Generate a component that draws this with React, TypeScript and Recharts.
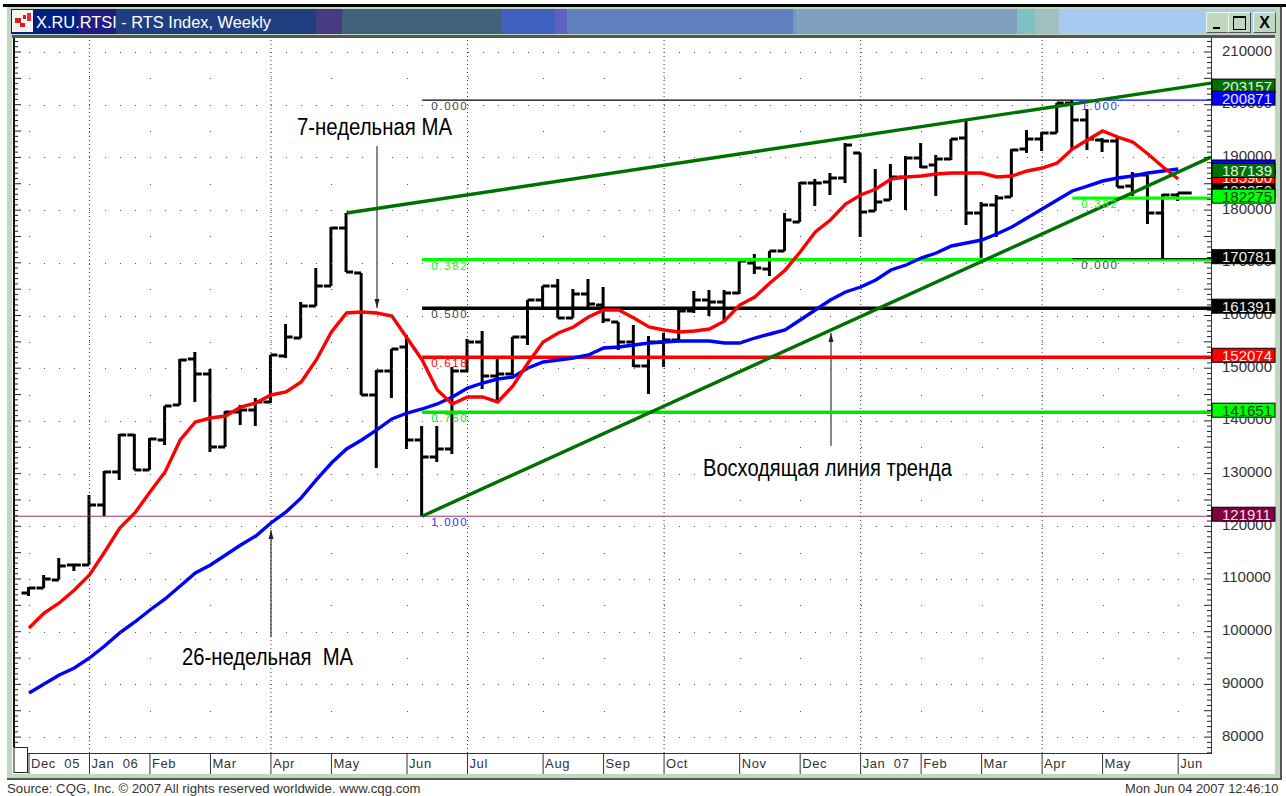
import React from "react";
import {
  Bar,
  ComposedChart,
  Line,
  ReferenceDot,
  ReferenceLine,
  Scatter,
  XAxis,
  YAxis,
} from "recharts";

// weekly RTS bars, Dec 05 - Jun 07
const opens = [
  107340, 108290, 109810, 112660, 112660, 124040, 130310, 137330, 130690, 136380, 143020,
  151750, 148900, 135050, 141690, 142070, 143590, 152320, 155730, 161800, 165600, 176600,
  168070, 144920, 149470, 154020, 136380, 133150, 134670, 149470, 154970, 148520, 148900,
  155920, 162940, 165600, 159530, 164080, 161990, 158770, 154970, 150420, 154970, 155350,
  160860, 162940, 162560, 164270, 169960, 168820, 172240, 177740, 185140, 185330, 186090,
  190840, 179830, 181920, 186280, 189890, 188560, 189700, 193680, 179450, 180970, 182490,
  191590, 193490, 194630, 200320, 197100, 193300, 193110, 184570, 186660, 179450, 182870,
];
const highs = [
  108480, 110760, 113990, 112850, 125940, 130490, 137520, 137520, 136760, 142830, 151750,
  153080, 149850, 141880, 143020, 144350, 152510, 158390, 162560, 169010, 176790, 179450,
  168070, 149660, 153640, 156300, 139030, 139030, 150230, 155540, 157060, 151940, 155920,
  162940, 165600, 166930, 165030, 166930, 165410, 158770, 158200, 156110, 156680, 161040,
  164650, 164840, 164840, 170340, 171670, 172240, 179450, 185330, 185900, 187040, 192730,
  190840, 187800, 188750, 190270, 192730, 190460, 193490, 197100, 181540, 182870, 191590,
  195200, 194820, 200320, 200870, 199180, 193680, 193680, 187230, 186660, 183060, 183250,
];
const lows = [
  106770, 108290, 109810, 111520, 112660, 121960, 128790, 130690, 130690, 135430, 143020,
  143590, 134100, 135050, 139220, 139030, 143400, 151940, 155730, 161800, 165600, 168250,
  144920, 131060, 144350, 134670, 121911, 132200, 133720, 149280, 146050, 143590, 148710,
  154400, 161420, 159530, 159530, 161610, 158580, 153450, 150230, 145110, 150230, 155160,
  160480, 159910, 158770, 164080, 167880, 167500, 172240, 177740, 180780, 182870, 185140,
  174900, 179830, 181920, 180020, 187990, 182680, 189510, 177170, 170950, 174900, 182490,
  190840, 191220, 194630, 191590, 191410, 191030, 184380, 182680, 177360, 170781, 181730,
];
const closes = [
  108290, 110000, 112470, 112660, 124040, 130310, 137330, 130690, 136570, 142830, 151560,
  148900, 135050, 141690, 142070, 143590, 152510, 155920, 161800, 165600, 176600, 168250,
  144920, 149470, 153640, 136380, 133150, 134670, 149470, 154970, 148520, 148900, 155920,
  162940, 165600, 159530, 164080, 162180, 159150, 154970, 150420, 154970, 155350, 160860,
  162940, 162560, 164270, 170340, 169010, 172240, 178120, 185140, 185140, 186090, 192350,
  179640, 181540, 186280, 189890, 188180, 189700, 193490, 179450, 180970, 182300, 191410,
  193490, 194630, 200320, 197100, 193490, 193110, 184380, 186660, 179450, 182870, 183250,
];
const ma7 = [
  100700, 103550, 105450, 107920, 110760, 115130, 119670, 122530, 126510, 130310, 136380,
  139790, 140550, 140930, 142640, 143400, 144920, 145490, 147380, 151560, 156870, 160480,
  160670, 160480, 159910, 155730, 151560, 145870, 143210, 144540, 144540, 143590, 146620,
  150990, 154970, 156680, 157820, 159720, 161040, 161040, 159530, 157820, 157250, 156870,
  157060, 157440, 158960, 161990, 163510, 166170, 168600, 172050, 175850, 178120, 181160,
  182870, 184000, 185900, 186280, 186470, 186850, 187040, 187040, 187040, 186280, 186470,
  187420, 187990, 188940, 191590, 193300, 195010, 193870, 192920, 190650, 188180, 185900,
];
const ma26 = [
  88370, 90080, 91790, 93110, 95010, 97290, 99760, 101840, 104120, 106210, 108670,
  111140, 112660, 114550, 116450, 118160, 120630, 122720, 125380, 128790, 132010, 134670,
  136380, 138280, 140370, 141500, 142260, 143210, 144540, 146240, 147190, 147950, 148330,
  150040, 151180, 151560, 151940, 152510, 153840, 154020, 154400, 154780, 154970, 155160,
  155160, 155160, 154780, 154780, 155730, 156490, 157250, 159150, 161040, 162940, 164460,
  165410, 166740, 168640, 169580, 170910, 171860, 173190, 173760, 174330, 175470, 176790,
  178500, 180210, 181920, 183630, 184570, 185520, 186090, 186470, 187040, 187420, 187800,
];

const monthTicks = [0, 4, 8, 12, 16, 20, 25, 29, 34, 38, 42, 47, 51, 55, 59, 63, 67, 71, 76];
const monthLabels = [
  "Dec\u00a0\u00a005", "Jan\u00a0\u00a006", "Feb", "Mar", "Apr", "May", "Jun", "Jul", "Aug", "Sep",
  "Oct", "Nov", "Dec", "Jan\u00a0\u00a007", "Feb", "Mar", "Apr", "May", "Jun",
];
const quarterTicks = [4, 16, 29, 42, 55, 67];

const swingLow = 121911;
const swingHigh = 200871;
const upperChannel = [
  { i: 21, v: 179450 },
  { i: 78.17, v: 204100 },
];
const risingTrend = [
  { i: 26, v: 121911 },
  { i: 78.17, v: 190076 },
];
const fibLeft = [
  { label: "0.382", v: 170600, color: "#00ff00" },
  { label: "0.500", v: 161391, color: "#000000" },
  { label: "0.618", v: 152074, color: "#ff0000" },
  { label: "0.750", v: 141651, color: "#00e800" },
];
const priceFlags = [
  { v: 203157, bg: "#007000", fg: "#e8f4e8" },
  { v: 200871, bg: "#0000ff", fg: "#e8e8ff" },
  { v: 187800, bg: "#0000ff", fg: "#e8e8ff" },
  { v: 185900, bg: "#ff0000", fg: "#ffe8e8" },
  { v: 183250, bg: "#000000", fg: "#e8e8e8" },
  { v: 187139, bg: "#007000", fg: "#e8f4e8" },
  { v: 182275, bg: "#00ff00", fg: "#004000" },
  { v: 170781, bg: "#000000", fg: "#f0f0f0" },
  { v: 161391, bg: "#000000", fg: "#f0f0f0" },
  { v: 152074, bg: "#ff0000", fg: "#ffe8e8" },
  { v: 141651, bg: "#00ff00", fg: "#004000" },
  { v: 121911, bg: "#800040", fg: "#f0e0e8" },
];

const PLOT = { left: 14, right: 1211, top: 38, bottom: 753 };
const X_DOMAIN: [number, number] = [-0.992, 78.17];
const Y_DOMAIN: [number, number] = [76980, 212660];
const LAST_BAR = opens.length - 1;
const SANS = "'Liberation Sans', Arial, sans-serif";
const NARROW = "'Liberation Sans Narrow', 'Liberation Sans', Arial, sans-serif";

const rows = opens.map((open, i) => ({
  i,
  open,
  high: highs[i],
  low: lows[i],
  close: closes[i],
  ma7: ma7[i],
  ma26: ma26[i],
}));

const axisTicks: number[] = [];
for (let v = 77000; v <= 212000; v += 1000) axisTicks.push(v);
const priceTicks: number[] = [];
for (let v = 80000; v <= 210000; v += 10000) priceTicks.push(v);

const gridDots: { i: number; v: number }[] = [];
priceTicks.forEach((v) => {
  for (let i = 0; i <= 77; i++) gridDots.push({ i, v });
  if (v < 210000) monthTicks.forEach((i) => gridDots.push({ i, v: v + 5000 }));
});

const level = (from: number, v: number) => [
  { i: from, v },
  { i: X_DOMAIN[1], v },
];

const OhlcBar = (props: any) => {
  const { x, y, width, height, payload, index } = props;
  const cx = x + width / 2;
  const unit = height / (payload.high - payload.low);
  const openY = y + (payload.high - payload.open) * unit;
  const closeY = y + (payload.high - payload.close) * unit;
  const closeLen = index === LAST_BAR ? 14 : 7;
  return (
    <g stroke="#000" strokeWidth={3} fill="none">
      <line x1={cx} x2={cx} y1={y} y2={y + height} />
      <line x1={cx - 7} x2={cx} y1={openY} y2={openY} />
      <line x1={cx} x2={cx + closeLen} y1={closeY} y2={closeY} />
    </g>
  );
};

const GridDot = (props: any) => (
  <rect x={Math.round(props.cx)} y={Math.round(props.cy)} width={1} height={1} fill="#555" />
);

// tick marks only, the price numbers go in ReferenceDots so the flags can cover them
const RightTick = (props: any) => {
  const { y, payload } = props;
  const isFive = payload.value % 5000 === 0;
  return <line x1={PLOT.right - (isFive ? 7 : 4)} x2={PLOT.right} y1={y} y2={y} stroke="#222" />;
};

const LeftTick = (props: any) => {
  const { y, payload } = props;
  const isFive = payload.value % 5000 === 0;
  return <line x1={PLOT.left} x2={PLOT.left + (isFive ? 7 : 4)} y1={y} y2={y} stroke="#222" />;
};

const MonthTick = (props: any) => {
  const { x, payload } = props;
  const label = monthLabels[monthTicks.indexOf(payload.value)];
  return (
    <g>
      <line x1={x} x2={x} y1={PLOT.bottom} y2={774} stroke="#333" />
      <text x={x + 2} y={768} fontFamily={SANS} fontSize={13} letterSpacing={0.6} fill="#333">
        {label}
      </text>
    </g>
  );
};

const priceLabel = (v: number) => (p: any) => (
  <text x={p.cx + 11} y={p.cy + 3.5} fontFamily={SANS} fontSize={15} fill="#333">
    {v}
  </text>
);

const fibText = (text: string, color: string) => (p: any) => (
  <text
    x={p.cx + 9}
    y={p.cy + 10}
    fontFamily={SANS}
    fontSize={11.5}
    letterSpacing={1.7}
    fill={color}
  >
    {text}
  </text>
);

const flagShape = (v: number, bg: string, fg: string) => (p: any) => (
  <g>
    <rect x={p.cx + 1} y={p.cy - 9} width={63} height={14} fill={bg} stroke="#000" />
    <text x={p.cx + 11} y={p.cy + 3.5} fontFamily={SANS} fontSize={15} fill={fg}>
      {v}
    </text>
  </g>
);

const Arrow = ({ x, from, to }: { x: number; from: number; to: number }) => {
  const dir = to > from ? -1 : 1;
  return (
    <g>
      <line x1={x} x2={x} y1={from} y2={to} stroke="#555" strokeWidth={1.4} />
      <polygon
        points={`${x},${to} ${x - 2.5},${to + dir * 9} ${x + 2.5},${to + dir * 9}`}
        fill="#222"
      />
    </g>
  );
};

const Note = ({ x, y, w, children }: any) => (
  <text
    x={x}
    y={y}
    fontFamily={NARROW}
    fontSize={23}
    fill="#000"
    textLength={w}
    lengthAdjust="spacingAndGlyphs"
  >
    {children}
  </text>
);

const titleBands = [
  [11, 78, "#002080"],
  [78, 116, "#201c80"],
  [116, 316, "#1f3f80"],
  [316, 342, "#463a80"],
  [342, 501, "#40607c"],
  [501, 555, "#3f60bf"],
  [555, 567, "#6060c0"],
  [567, 793, "#6080c0"],
  [793, 796, "#60a0c0"],
  [796, 1017, "#80a0c0"],
  [1017, 1035, "#80c0c0"],
  [1035, 1059, "#a0c0c0"],
  [1059, 1276, "#a6caf0"],
] as const;

const box = (left: number, top: number, width: number, height: number, background: string) => ({
  position: "absolute" as const,
  left,
  top,
  width,
  height,
  background,
});

const WinButton = ({ left, children }: any) => (
  <div
    style={{
      ...box(left, 12, 21, 19, "#c0d8c0"),
      borderTop: "1px solid #eef6ee",
      borderLeft: "1px solid #eef6ee",
      borderRight: "1px solid #555",
      borderBottom: "1px solid #555",
    }}
  >
    {children}
  </div>
);

const footerStyle = {
  position: "absolute" as const,
  top: 782,
  fontFamily: SANS,
  lineHeight: "14px",
  color: "#333",
  whiteSpace: "pre" as const,
};

export default function App() {
  return (
    <div style={{ ...box(0, 0, 1286, 796, "#fff"), overflow: "hidden" }}>
      <div style={box(3, 4, 1283, 3, "#000")} />
      <div style={box(7, 7, 1273, 771, "#c0d8c0")} />
      <div style={box(7, 778, 1275, 2, "#555")} />
      <div style={box(1280, 7, 2, 773, "#555")} />
      {titleBands.map(([a, b, color]) => (
        <div key={a} style={box(a, 9, b - a, 25, color)} />
      ))}
      <div style={box(12, 10, 21, 22, "#f4f4f4")}>
        <div style={box(3, 8, 6, 5, "#d02020")} />
        <div style={box(11, 5, 3, 4, "#d02020")} />
        <div style={box(15, 3, 4, 8, "#e03030")} />
        <div style={box(8, 13, 5, 4, "#d02020")} />
      </div>
      <div
        style={{
          position: "absolute",
          left: 36,
          top: 13,
          color: "#fff",
          fontFamily: SANS,
          fontSize: 16.4,
          lineHeight: "18px",
          whiteSpace: "pre",
        }}
      >
        X.RU.RTSI - RTS Index, Weekly
      </div>
      <WinButton left={1206}>
        <div style={box(6, 14, 7, 2, "#000")} />
      </WinButton>
      <WinButton left={1228}>
        <div style={{ ...box(4, 3, 11, 11, "transparent"), border: "1px solid #000", borderTopWidth: 2 }} />
      </WinButton>
      <WinButton left={1253}>
        <div
          style={{
            position: "absolute",
            left: 0,
            width: 21,
            top: 0,
            textAlign: "center",
            fontFamily: SANS,
            fontWeight: 700,
            fontSize: 16,
            lineHeight: "19px",
          }}
        >
          X
        </div>
      </WinButton>
      <div style={box(12, 35, 1263, 3, "#555")} />
      <div style={box(12, 38, 1263, 736, "#fff")} />
      <div style={box(13, 38, 2, 715, "#111")} />
      <div style={box(14, 753, 1197, 1, "#333")} />
      <div style={box(1211, 38, 1, 716, "#333")} />
      <div
        style={{
          ...box(13, 747, 15, 26, "#fff"),
          boxSizing: "border-box",
          border: "1px solid #222",
          borderLeft: "2px solid #888",
          zIndex: 3,
        }}
      />

      <div style={{ position: "absolute", left: 0, top: 0, zIndex: 2 }}>
        <ComposedChart
          width={1286}
          height={796}
          data={rows}
          margin={{ left: PLOT.left - 1, right: 1286 - PLOT.right - 1, top: PLOT.top, bottom: 796 - PLOT.bottom - 1 }}
        >
          <XAxis
            type="number"
            dataKey="i"
            domain={X_DOMAIN}
            allowDataOverflow
            ticks={monthTicks}
            interval={0}
            height={1}
            axisLine={false}
            tickLine={false}
            tick={MonthTick}
          />
          <YAxis
            orientation="right"
            domain={Y_DOMAIN}
            allowDataOverflow
            ticks={axisTicks}
            interval={0}
            width={1}
            axisLine={false}
            tickLine={false}
            tick={RightTick}
          />
          <YAxis
            yAxisId="left"
            orientation="left"
            domain={Y_DOMAIN}
            allowDataOverflow
            ticks={axisTicks}
            interval={0}
            width={1}
            axisLine={false}
            tickLine={false}
            tick={LeftTick}
          />

          <Scatter data={gridDots} dataKey="v" shape={GridDot} isAnimationActive={false} />
          {quarterTicks.map((q) => (
            <ReferenceLine key={q} x={q} stroke="#333" strokeDasharray="1 3" />
          ))}

          {/* retracement levels */}
          <Line data={level(X_DOMAIN[0], swingLow)} dataKey="v" stroke="#a03068" strokeWidth={1} dot={false} isAnimationActive={false} />
          {fibLeft.map((f) => (
            <Line key={f.label} data={level(26, f.v)} dataKey="v" stroke={f.color} strokeWidth={3.4} dot={false} isAnimationActive={false} />
          ))}
          <Line data={[{ i: 26, v: swingHigh }, { i: 69, v: swingHigh }]} dataKey="v" stroke="#000" strokeWidth={1.3} dot={false} isAnimationActive={false} />
          <Line data={level(69, swingHigh)} dataKey="v" stroke="#0000ff" strokeWidth={1.3} dot={false} isAnimationActive={false} />
          <Line data={level(69, 182275)} dataKey="v" stroke="#00ff00" strokeWidth={3.4} dot={false} isAnimationActive={false} />
          <Line data={level(69, 170781)} dataKey="v" stroke="#000" strokeWidth={1} dot={false} isAnimationActive={false} />

          <Line dataKey="ma26" stroke="#0000ff" strokeWidth={3.4} dot={false} isAnimationActive={false} />
          <Line dataKey="ma7" stroke="#ff0000" strokeWidth={3.4} dot={false} isAnimationActive={false} />
          <Line data={upperChannel} dataKey="v" stroke="#007000" strokeWidth={3.4} dot={false} isAnimationActive={false} />
          <Line data={risingTrend} dataKey="v" stroke="#007000" strokeWidth={3.4} dot={false} isAnimationActive={false} />

          <Bar dataKey={(d: any) => [d.low, d.high]} barSize={6} shape={OhlcBar} isAnimationActive={false} />

          {[{ t: "0.000", c: "#444", v: swingHigh }, { t: "1.000", c: "#3030ff", v: swingLow }].map((f) => (
            <ReferenceDot key={f.t} x={26} y={f.v} r={0} shape={fibText(f.t, f.c)} />
          ))}
          {fibLeft.map((f) => (
            <ReferenceDot
              key={f.label}
              x={26}
              y={f.v}
              r={0}
              shape={fibText(f.label, f.label === "0.500" ? "#444" : f.color)}
            />
          ))}
          <ReferenceDot x={69} y={swingHigh} r={0} shape={fibText("1.000", "#3030ff")} />
          <ReferenceDot x={69} y={182275} r={0} shape={fibText("0.382", "#00ff00")} />
          <ReferenceDot x={69} y={170781} r={0} shape={fibText("0.000", "#444")} />

          {priceTicks.map((v) => (
            <ReferenceDot key={v} x={X_DOMAIN[1]} y={v} r={0} ifOverflow="visible" shape={priceLabel(v)} />
          ))}
          {priceFlags.map((f, k) => (
            <ReferenceDot
              key={k}
              x={X_DOMAIN[1]}
              y={f.v}
              r={0}
              ifOverflow="visible"
              shape={flagShape(f.v, f.bg, f.fg)}
            />
          ))}

          <Note x={297} y={135} w={155}>7-недельная МА</Note>
          <Note x={182} y={665} w={171}>{"26-недельная\u00a0\u00a0МА"}</Note>
          <Note x={703} y={476} w={249}>Восходящая линия тренда</Note>
          <Arrow x={377} from={146} to={308} />
          <Arrow x={271} from={637} to={530} />
          <Arrow x={831} from={446} to={333} />
        </ComposedChart>
      </div>

      <div style={{ ...footerStyle, left: 7, fontSize: 13.2 }}>
        Source: CQG, Inc. © 2007 All rights reserved worldwide. www.cqg.com
      </div>
      <div style={{ ...footerStyle, left: 1125, fontSize: 12.9 }}>
        Mon Jun 04 2007 12:46:10
      </div>
    </div>
  );
}
